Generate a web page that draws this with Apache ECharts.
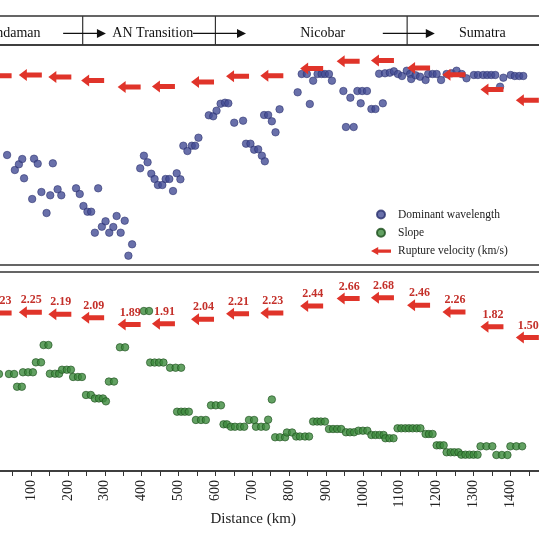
<!DOCTYPE html>
<html>
<head>
<meta charset="utf-8">
<script src="https://cdn.jsdelivr.net/npm/echarts@6/dist/echarts.min.js"></script>
<style>html,body{margin:0;padding:0;background:#fff;}#c{width:539px;height:539px;}</style>
</head>
<body>
<div id="c"></div>
<script>
// ---- data ----
const regionNames = ['Andaman', 'AN Transition', 'Nicobar', 'Sumatra'];
const regionCenters = [52, 430, 891, 1324];          // km
const regionBounds = [240, 600, 1120];                // km
const directionArrows = [[187, 303], [539, 683], [1054, 1195]]; // km from -> to

const wavelength = [[35,11.0],[56,9.5],[67,10.07],[76,10.6],[81,8.67],[103,6.6],[108,10.63],[118,10.13],[128,7.3],[142,5.2],[152,6.97],[159,10.17],[172,7.57],[182,6.97],[222,7.67],[232,7.1],[242,5.9],[253,5.33],[263,5.33],[273,3.23],[282,7.67],[292,3.83],[302,4.37],[312,3.23],[323,3.8],[332,4.9],[343,3.23],[354,4.43],[364,0.93],[374,2.07],[396,9.67],[406,10.93],[416,10.27],[426,9.13],[435,8.6],[444,8.0],[456,8.0],[465,8.6],[475,8.6],[485,7.4],[495,9.17],[505,8.57],[513,11.93],[524,11.4],[536,11.93],[545,11.93],[554,12.73],[582,14.97],[594,14.87],[603,15.43],[614,16.13],[626,16.23],[635,16.17],[651,14.23],[675,14.43],[683,12.13],[695,12.13],[705,11.53],[716,11.57],[726,10.93],[732,15.0],[734,10.37],[743,15.0],[753,14.37],[763,13.27],[774,15.57],[823,17.27],[834,19.1],[848,19.1],[856,16.1],[865,18.43],[877,19.1],[888,19.1],[897,19.1],[908,19.1],[916,18.43],[947,17.4],[954,13.8],[966,16.73],[975,13.8],[985,17.4],[994,16.17],[998,17.4],[1011,17.4],[1023,15.6],[1034,15.6],[1044,19.13],[1054,16.17],[1060,19.17],[1073,19.23],[1084,19.37],[1095,19.1],[1106,18.9],[1119,19.43],[1128,19.1],[1131,18.6],[1143,18.97],[1155,18.83],[1170,18.5],[1177,19.1],[1189,19.1],[1200,19.1],[1212,18.5],[1227,19.1],[1241,19.17],[1254,19.43],[1268,19.1],[1281,18.67],[1301,19.0],[1312,19.0],[1326,19.0],[1337,19.0],[1348,19.0],[1359,19.0],[1372,17.83],[1381,18.73],[1401,19.0],[1412,18.9],[1424,18.9],[1435,18.9]];

const slope = [[13,0.975],[40,0.975],[54,0.975],[62,0.847],[75,0.847],[78,0.992],[92,0.992],[105,0.992],[113,1.092],[127,1.092],[134,1.266],[147,1.266],[151,0.978],[165,0.978],[176,0.978],[184,1.018],[197,1.018],[208,1.018],[214,0.945],[227,0.945],[238,0.945],[249,0.764],[262,0.764],[273,0.729],[284,0.729],[295,0.729],[303,0.700],[311,0.899],[325,0.899],[341,1.243],[355,1.243],[406,1.608],[420,1.608],[423,1.090],[435,1.090],[447,1.090],[459,1.090],[477,1.038],[492,1.038],[507,1.038],[496,0.596],[507,0.596],[517,0.596],[528,0.596],[547,0.513],[561,0.513],[574,0.513],[588,0.660],[601,0.660],[615,0.660],[622,0.469],[631,0.469],[642,0.445],[653,0.445],[667,0.445],[678,0.445],[691,0.513],[705,0.513],[710,0.445],[724,0.445],[737,0.445],[743,0.516],[753,0.719],[762,0.339],[775,0.339],[789,0.339],[794,0.387],[808,0.387],[819,0.347],[829,0.347],[843,0.347],[854,0.347],[865,0.497],[876,0.497],[886,0.497],[897,0.497],[908,0.422],[919,0.422],[930,0.422],[941,0.422],[954,0.389],[965,0.389],[976,0.389],[988,0.405],[1000,0.405],[1012,0.405],[1023,0.362],[1034,0.362],[1045,0.362],[1056,0.362],[1061,0.329],[1072,0.329],[1083,0.329],[1094,0.429],[1104,0.429],[1115,0.429],[1125,0.429],[1135,0.429],[1146,0.429],[1156,0.429],[1170,0.372],[1179,0.372],[1189,0.372],[1200,0.258],[1209,0.258],[1219,0.258],[1227,0.188],[1238,0.188],[1248,0.188],[1259,0.188],[1267,0.164],[1278,0.164],[1289,0.164],[1300,0.164],[1311,0.164],[1319,0.248],[1335,0.248],[1351,0.248],[1362,0.161],[1377,0.161],[1392,0.161],[1400,0.248],[1416,0.248],[1432,0.248]];

const velocityKm = [16, 98, 178, 267, 366, 459, 565, 660, 753, 861, 960, 1053, 1151, 1247, 1350, 1446];
const velocity = [2.23, 2.25, 2.19, 2.09, 1.89, 1.91, 2.04, 2.21, 2.23, 2.44, 2.66, 2.68, 2.46, 2.26, 1.82, 1.50];
const xTicks = [0, 100, 200, 300, 400, 500, 600, 700, 800, 900, 1000, 1100, 1200, 1300, 1400, 1500];

// ---- chart ----
const FONT = '"Liberation Serif", "DejaVu Serif", serif';
const RED = '#e0342a';
const LABEL_RED = '#c4302a';
const velData = velocityKm.map((k, i) => [k, velocity[i]]);

function arrowPoly(cx, cy) {
  return [[cx - 11.5, cy], [cx - 3.5, cy - 6], [cx - 3.5, cy - 2.5], [cx + 11.5, cy - 2.5],
          [cx + 11.5, cy + 2.5], [cx - 3.5, cy + 2.5], [cx - 3.5, cy + 6]];
}
function arrowRender(withLabel) {
  return function (params, api) {
    const p = api.coord([api.value(0), api.value(1)]);
    const children = [{ type: 'polygon', shape: { points: arrowPoly(p[0], p[1]) }, style: { fill: RED } }];
    if (withLabel) {
      children.push({ type: 'text', style: { text: api.value(1).toFixed(2), x: p[0] + 1, y: p[1] - 12,
        align: 'center', verticalAlign: 'middle', font: 'bold 12px ' + FONT, fill: LABEL_RED } });
    }
    return { type: 'group', children };
  };
}

const grids = [
  { left: -5.8, top: 16, width: 553.05, height: 29 },
  { left: -5.8, top: 45, width: 553.05, height: 220 },
  { left: -5.8, top: 272, width: 553.05, height: 199 }
].map(g => Object.assign(g, { show: true, borderColor: '#333', borderWidth: 1.5, backgroundColor: 'transparent',
  containLabel: false, outerBoundsMode: 'none' }));

const hiddenX = (gi) => ({ type: 'value', gridIndex: gi, min: 0, max: 1500, show: false });

const option = {
  animation: false,
  backgroundColor: '#fff',
  grid: grids,
  xAxis: [
    hiddenX(0), hiddenX(1),
    { type: 'value', gridIndex: 2, min: 0, max: 1500, interval: 50,
      name: 'Distance (km)', nameLocation: 'middle', nameGap: 39,
      nameTextStyle: { fontFamily: FONT, fontSize: 15, color: '#222', padding: [0, 35, 0, 0] },
      axisLine: { show: true, lineStyle: { color: '#333', width: 1.5 } },
      axisTick: { show: true, inside: false, length: 5, lineStyle: { color: '#333', width: 1 } },
      axisLabel: { rotate: 90, margin: 9, fontFamily: FONT, fontSize: 14, color: '#222',
        hideOverlap: false,
        formatter: v => (xTicks.indexOf(v) >= 0 ? String(v) : '') },
      splitLine: { show: false } }
  ],
  yAxis: [
    { type: 'value', gridIndex: 0, min: 0, max: 1, show: false },
    { type: 'value', gridIndex: 1, min: 0, max: 22, show: false },
    { type: 'value', gridIndex: 1, min: -3.393, max: 3.141, show: false },
    { type: 'value', gridIndex: 2, min: 0, max: 2, show: false },
    { type: 'value', gridIndex: 2, min: -2.464, max: 3.447, show: false }
  ],
  legend: {
    orient: 'vertical', left: 366, top: 203.5, itemWidth: 24, itemHeight: 8, itemGap: 6.3,
    selectedMode: false,
    textStyle: { fontFamily: FONT, fontSize: 11.5, color: '#222' },
    data: [
      { name: 'Dominant wavelength', icon: 'circle' },
      { name: 'Slope', icon: 'circle' },
      { name: 'Rupture velocity (km/s)', icon: 'path://M0,5L9,0L9,3L25,3L25,7L9,7L9,10Z' }
    ]
  },
  series: [
    { type: 'custom', xAxisIndex: 0, yAxisIndex: 0, silent: true,
      data: regionCenters.map((c, i) => [c, 0.4, i]),
      renderItem: (params, api) => {
        const p = api.coord([api.value(0), api.value(1)]);
        return { type: 'text', style: { text: regionNames[api.value(2)], x: p[0], y: p[1],
          align: 'center', verticalAlign: 'middle', font: '14px ' + FONT, fill: '#111' } };
      } },
    { type: 'custom', xAxisIndex: 0, yAxisIndex: 0, silent: true,
      data: regionBounds.map(b => [b]),
      renderItem: (params, api) => {
        const a = api.coord([api.value(0), 0]), b = api.coord([api.value(0), 1]);
        return { type: 'line', shape: { x1: a[0], y1: a[1], x2: b[0], y2: b[1] },
          style: { stroke: '#333', lineWidth: 1.2 } };
      } },
    { type: 'custom', xAxisIndex: 0, yAxisIndex: 0, silent: true,
      data: directionArrows.map(d => [d[0], d[1]]),
      renderItem: (params, api) => {
        const a = api.coord([api.value(0), 0.4]), b = api.coord([api.value(1), 0.4]);
        return { type: 'group', children: [
          { type: 'line', shape: { x1: a[0], y1: a[1], x2: b[0] - 6, y2: b[1] }, style: { stroke: '#111', lineWidth: 1.2 } },
          { type: 'polygon', shape: { points: [[b[0], b[1]], [b[0] - 9, b[1] - 4.5], [b[0] - 9, b[1] + 4.5]] }, style: { fill: '#111' } }
        ] };
      } },
    { name: 'Dominant wavelength', type: 'scatter', xAxisIndex: 1, yAxisIndex: 1, data: wavelength,
      symbolSize: 7.5, itemStyle: { color: '#434c95', borderColor: '#2b316e', borderWidth: 0.7 }, z: 3 },
    { name: 'Rupture velocity (km/s)', type: 'custom', xAxisIndex: 1, yAxisIndex: 2, data: velData,
      itemStyle: { color: RED }, renderItem: arrowRender(false), z: 4 },
    { name: 'Slope', type: 'scatter', xAxisIndex: 2, yAxisIndex: 3, data: slope,
      symbolSize: 7.5, itemStyle: { color: '#3c8a3c', borderColor: '#1d4f1d', borderWidth: 0.8 }, z: 3 },
    { name: 'Rupture velocity (km/s)', type: 'custom', xAxisIndex: 2, yAxisIndex: 4, data: velData,
      itemStyle: { color: RED }, renderItem: arrowRender(true), z: 4 }
  ]
};

const chart = echarts.init(document.getElementById('c'), null, { renderer: 'canvas' });
chart.setOption(option);
</script>
</body>
</html>
